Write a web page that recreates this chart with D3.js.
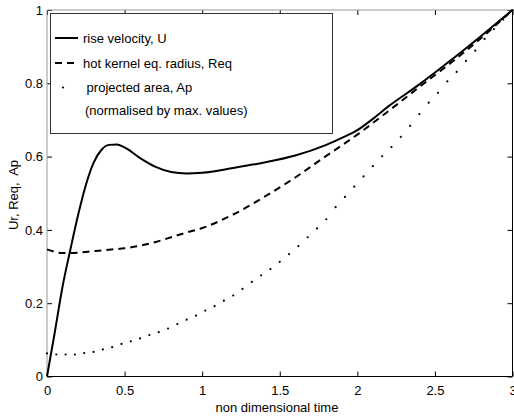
<!DOCTYPE html>
<html>
<head>
<meta charset="utf-8">
<script src="https://d3js.org/d3.v7.min.js"></script>
<style>
  body { margin: 0; background: #fff; }
  text { font-family: "Liberation Sans", Arial, sans-serif; font-size: 13px; fill: #000; }
</style>
</head>
<body>
<svg width="514" height="416"></svg>
<script>
// rise velocity U (solid)
var uT = [0, 0.05, 0.1, 0.15, 0.2, 0.25, 0.3, 0.35, 0.4, 0.45, 0.5, 0.6, 0.7, 0.8, 0.9, 1.0,
          1.2, 1.4, 1.6, 1.8, 1.9, 2.0, 2.1, 2.2, 2.4, 2.6, 2.8, 3.0];
var uVal = [0, 0.12, 0.245, 0.345, 0.44, 0.522, 0.583, 0.618, 0.632, 0.633, 0.625, 0.596, 0.572, 0.558, 0.554, 0.556,
            0.569, 0.584, 0.603, 0.632, 0.651, 0.672, 0.703, 0.737, 0.797, 0.862, 0.930, 1.0];

// hot kernel eq. radius Req (dashed)
var rT = [0, 0.1, 0.2, 0.3, 0.4, 0.5, 0.6, 0.7, 0.8, 0.9, 1.0, 1.2, 1.4, 1.6, 1.8, 2.0, 2.2, 2.4, 2.6, 2.8, 3.0];
var rVal = [0.347, 0.337, 0.338, 0.342, 0.346, 0.350, 0.357, 0.367, 0.380, 0.393, 0.405,
            0.442, 0.490, 0.543, 0.602, 0.660, 0.724, 0.790, 0.855, 0.924, 1.0];

// projected area Ap (dots, every 0.06)
var aT = d3.range(51).map(function (i) { return +(i * 0.06).toFixed(2); });
var aVal = [0.063, 0.060, 0.060, 0.060, 0.064, 0.067, 0.074, 0.080, 0.089, 0.096,
            0.104, 0.113, 0.121, 0.131, 0.143, 0.155, 0.166, 0.180, 0.192, 0.207,
            0.221, 0.239, 0.258, 0.276, 0.293, 0.313, 0.334, 0.356, 0.380, 0.404,
            0.429, 0.462, 0.490, 0.518, 0.546, 0.574, 0.601, 0.626, 0.654, 0.684,
            0.716, 0.747, 0.774, 0.805, 0.831, 0.861, 0.889, 0.921, 0.948, 0.974, 1.0];

var xTicks = [0, 0.5, 1, 1.5, 2, 2.5, 3];
var yTicks = [0, 0.2, 0.4, 0.6, 0.8, 1];
var legendLabels = ['rise velocity, U', 'hot kernel eq. radius, Req', ' projected area, Ap', '(normalised by max. values)'];

var svg = d3.select('svg');

var scaleX = d3.scaleLinear().domain([0, 3]).range([47, 512.5]);
var scaleY = d3.scaleLinear().domain([0, 1]).range([376.5, 10]);

// axes with inward ticks
svg.append('g')
    .attr('transform', 'translate(0,376.5)')
    .call(d3.axisBottom(scaleX).tickValues(xTicks).tickSize(-5).tickPadding(9)
        .tickFormat(function (d) { return d3.format('')(d); }))
    .call(function (g) { g.select('.domain').remove(); });

svg.append('g')
    .attr('transform', 'translate(47,0)')
    .call(d3.axisLeft(scaleY).tickValues(yTicks).tickSize(-5).tickPadding(4)
        .tickFormat(function (d) { return d3.format('')(d); }))
    .call(function (g) { g.select('.domain').remove(); });

svg.append('g')
    .attr('transform', 'translate(0,10)')
    .call(d3.axisTop(scaleX).tickValues(xTicks).tickSize(-5).tickFormat(''))
    .call(function (g) { g.select('.domain').remove(); });

svg.append('g')
    .attr('transform', 'translate(512.5,0)')
    .call(d3.axisRight(scaleY).tickValues(yTicks).tickSize(-5).tickFormat(''))
    .call(function (g) { g.select('.domain').remove(); });

svg.selectAll('.tick text')
    .style('font-family', '"Liberation Sans", Arial, sans-serif')
    .style('font-size', '13px')
    .attr('fill', '#000');

// frame
svg.append('line').attr('x1', 47).attr('x2', 47).attr('y1', 10).attr('y2', 376.5)
    .attr('stroke', '#999').attr('stroke-width', 1);
svg.append('line').attr('x1', 47).attr('x2', 512.5).attr('y1', 10).attr('y2', 10)
    .attr('stroke', '#999').attr('stroke-width', 1);
svg.append('line').attr('x1', 47).attr('x2', 512.5).attr('y1', 376.5).attr('y2', 376.5)
    .attr('stroke', '#000').attr('stroke-width', 1);
svg.append('line').attr('x1', 512.5).attr('x2', 512.5).attr('y1', 10).attr('y2', 376.5)
    .attr('stroke', '#000').attr('stroke-width', 1);

// curves
var line = d3.line()
    .x(function (d) { return scaleX(d[0]); })
    .y(function (d) { return scaleY(d[1]); })
    .curve(d3.curveMonotoneX);

svg.append('path')
    .datum(rT.map(function (t, i) { return [t, rVal[i]]; }))
    .attr('d', line)
    .attr('fill', 'none')
    .attr('stroke', '#000')
    .attr('stroke-width', 2)
    .attr('stroke-dasharray', '7,5');

svg.append('path')
    .datum(uT.map(function (t, i) { return [t, uVal[i]]; }))
    .attr('d', line)
    .attr('fill', 'none')
    .attr('stroke', '#000')
    .attr('stroke-width', 2);

svg.selectAll('circle.ap')
    .data(aT.map(function (t, i) { return [t, aVal[i]]; }))
    .enter()
    .append('circle')
    .attr('class', 'ap')
    .attr('cx', function (d) { return scaleX(d[0]); })
    .attr('cy', function (d) { return scaleY(d[1]); })
    .attr('r', 1.1)
    .attr('fill', '#000');

// legend
var leg = svg.append('g');
leg.append('rect')
    .attr('x', 50.5).attr('y', 13.5)
    .attr('width', 282).attr('height', 120)
    .attr('fill', '#fff')
    .attr('stroke', '#333')
    .attr('stroke-width', 1);

leg.append('line').attr('x1', 55).attr('x2', 78).attr('y1', 38).attr('y2', 38)
    .attr('stroke', '#000').attr('stroke-width', 2);
leg.append('line').attr('x1', 55).attr('x2', 78).attr('y1', 63).attr('y2', 63)
    .attr('stroke', '#000').attr('stroke-width', 2).attr('stroke-dasharray', '7,5');
leg.append('circle').attr('cx', 63).attr('cy', 87.5).attr('r', 1.1).attr('fill', '#000');

leg.selectAll('text')
    .data(legendLabels)
    .enter()
    .append('text')
    .attr('x', function (d, i) { return i === 3 ? 85 : 83; })
    .attr('y', function (d, i) { return [43, 68, 92, 115][i]; })
    .attr('xml:space', 'preserve')
    .text(function (d) { return d; });

// axis titles
svg.append('text')
    .attr('x', 277)
    .attr('y', 412)
    .attr('text-anchor', 'middle')
    .text('non dimensional time');

svg.append('text')
    .attr('transform', 'translate(18,195) rotate(-90)')
    .attr('text-anchor', 'middle')
    .attr('xml:space', 'preserve')
    .text('Ur, Req,  Ap');
</script>
</body>
</html>
